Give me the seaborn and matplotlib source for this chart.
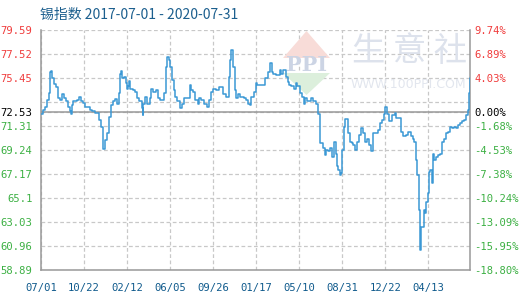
import numpy as np
import pandas as pd
import matplotlib
matplotlib.use("Agg")
import matplotlib.pyplot as plt
import seaborn as sns
from matplotlib.patches import Polygon

# ---------------- data ----------------
start_date = "2017-07-01"
day_offset = [0, 4, 10, 15, 20, 24, 26, 29, 34, 39, 45, 50, 55, 60, 66, 71, 76, 79, 81, 85,
              94, 101, 106, 111, 116, 129, 134, 143, 152, 158, 164, 167, 173, 178, 183, 188,
              194, 199, 204, 208, 210, 213, 218, 223, 227, 229, 231, 234, 241, 246, 253, 258,
              264, 267, 269, 274, 279, 285, 290, 295, 302, 307, 313, 323, 328, 332, 335, 339,
              344, 348, 353, 358, 365, 370, 376, 391, 395, 400, 405, 411, 416, 421, 428, 435,
              441, 446, 451, 460, 468, 477, 486, 493, 496, 500, 505, 509, 512, 517, 523, 533,
              539, 544, 549, 552, 558, 563, 568, 589, 595, 600, 605, 610, 617, 626, 631, 636,
              642, 647, 652, 657, 663, 668, 673, 680, 686, 691, 694, 699, 708, 715, 721, 726,
              731, 740, 745, 749, 754, 759, 764, 770, 773, 777, 780, 784, 787, 791, 794, 798,
              806, 810, 815, 820, 824, 829, 835, 840, 845, 850, 856, 861, 866, 871, 877, 885,
              890, 896, 901, 904, 908, 913, 920, 922, 929, 932, 945, 950, 957, 964, 971, 976,
              980, 985, 988, 992, 994, 997, 1004, 1008, 1011, 1015, 1018, 1022, 1025, 1029,
              1032, 1038, 1043, 1048, 1053, 1059, 1064, 1069, 1074, 1080, 1085, 1090, 1095,
              1101, 1106, 1111, 1116, 1120, 1123, 1126]
tin_index = [72.30, 72.66, 72.95, 73.50, 74.10, 75.96, 76.04, 75.40, 74.90, 74.60, 73.70, 73.50,
             74.00, 73.70, 73.40, 72.95, 72.60, 72.30, 73.10, 73.40, 73.50, 73.75, 73.40, 73.30,
             72.90, 72.66, 72.60, 72.40, 71.80, 71.20, 69.30, 70.10, 70.70, 72.10, 73.10, 73.40,
             73.60, 73.20, 74.10, 75.80, 76.04, 75.40, 75.50, 74.96, 74.50, 74.70, 75.20, 74.50,
             74.40, 74.20, 73.70, 73.40, 72.80, 72.20, 73.20, 73.80, 73.20, 73.70, 74.50, 74.20,
             74.40, 73.70, 73.50, 74.10, 76.40, 77.25, 76.97, 76.40, 75.24, 74.40, 73.80, 73.40,
             72.80, 73.20, 73.70, 74.80, 74.40, 74.20, 73.50, 73.20, 73.70, 73.50, 73.20, 72.95,
             73.50, 74.20, 74.50, 74.40, 74.60, 74.00, 73.80, 75.50, 76.97, 77.80, 76.40, 74.40,
             73.70, 74.00, 73.80, 73.70, 73.50, 73.20, 73.10, 73.80, 74.20, 74.96, 74.80, 75.40,
             75.96, 76.70, 75.96, 75.80, 75.70, 76.10, 75.80, 76.10, 75.50, 75.10, 74.80, 74.70,
             74.50, 74.96, 74.70, 74.10, 73.80, 73.20, 73.70, 73.40, 73.70, 73.40, 73.20, 72.30,
             69.80, 69.40, 68.80, 69.20, 69.10, 69.40, 68.60, 69.90, 68.90, 67.80, 67.50, 67.07,
             67.20, 69.20, 71.20, 71.90, 70.66, 69.90, 69.80, 69.65, 69.20, 69.90, 70.50, 71.10,
             70.66, 69.90, 70.20, 69.65, 69.10, 70.66, 70.70, 70.90, 71.50, 71.80, 72.30, 72.95,
             72.30, 71.70, 72.10, 72.20, 72.40, 71.95, 70.80, 70.40, 70.50, 70.80, 70.40, 70.20,
             69.90, 68.36, 67.07, 64.05, 60.60, 62.60, 64.05, 63.77, 64.77, 65.50, 67.35, 67.50,
             66.35, 68.90, 68.36, 68.60, 68.80, 68.90, 69.90, 70.20, 70.66, 70.80, 71.20, 71.10,
             71.20, 71.10, 71.40, 71.50, 71.70, 71.80, 72.20, 72.66, 74.10, 75.40]

base_value = 72.53
ytick_values = [79.59, 77.52, 75.45, 73.38, 72.53, 71.31, 69.24, 67.17, 65.1, 63.03, 60.96, 58.89]
left_labels = ["79.59", "77.52", "75.45", "", "72.53", "71.31", "69.24", "67.17", "65.1",
               "63.03", "60.96", "58.89"]
right_labels = ["9.74%", "6.89%", "4.03%", "", "0.00%", "-1.68%", "-4.53%", "-7.38%",
                "-10.24%", "-13.09%", "-15.95%", "-18.80%"]
xtick_dates = ["2017-07-01", "2017-10-22", "2018-02-12", "2018-06-05", "2018-09-26",
               "2019-01-17", "2019-05-10", "2019-08-31", "2019-12-22", "2020-04-13"]
xtick_labels = ["07/01", "10/22", "02/12", "06/05", "09/26", "01/17", "05/10", "08/31",
                "12/22", "04/13"]
title_text = "锡指数 2017-07-01 - 2020-07-31"

# ---------------- figure ----------------
sns.set_style("white")
plt.rcParams["font.family"] = ["Noto Sans CJK SC", "DejaVu Sans"]

W, H = 520, 300
fig = plt.figure(figsize=(W / 100, H / 100), dpi=100)
ax = fig.add_axes([41 / W, 1 - 270 / H, 429 / W, 240.5 / H])

df = pd.DataFrame({
    "date": pd.Timestamp(start_date) + pd.to_timedelta(day_offset, unit="D"),
    "value": tin_index,
})

sns.lineplot(data=df, x="date", y="value", ax=ax, color="#3b98d5", linewidth=1.1,
             drawstyle="steps-post", estimator=None, zorder=4)

ax.set_xlim(pd.Timestamp("2017-07-01"), pd.Timestamp("2020-07-31"))
ax.set_ylim(58.89, 79.59)
ax.set_xlabel("")
ax.set_ylabel("")

# grid
ax.set_yticks(ytick_values)
ax.set_yticklabels(left_labels)
ax.set_xticks(pd.to_datetime(xtick_dates))
ax.set_xticklabels(xtick_labels)
ax.grid(True, color="#c8c8c8", linestyle=(0, (3, 2)), linewidth=0.9)
ax.axhline(base_value, color="#999999", linewidth=1.1, zorder=3)

for sp in ["left", "right", "bottom"]:
    ax.spines[sp].set_color("#999999")
    ax.spines[sp].set_linewidth(1.1)
ax.spines["top"].set_visible(False)

mono = "DejaVu Sans Mono"
ax.tick_params(axis="both", length=0)
ax.tick_params(axis="y", pad=6)
ax.tick_params(axis="x", pad=9)
for lab in ax.get_xticklabels():
    lab.set_fontfamily(mono)
    lab.set_fontsize(7.6)
    lab.set_color("#0f5a8c")

red, green, black = "#f03c3c", "#3cb043", "#000000"
def colour_for(v):
    if abs(v - base_value) < 1e-6:
        return black
    return red if v > base_value else green

for lab, v in zip(ax.get_yticklabels(), ytick_values):
    lab.set_fontfamily(mono)
    lab.set_fontsize(7.6)
    lab.set_color(colour_for(v))

ax2 = ax.twinx()
ax2.set_ylim(58.89, 79.59)
ax2.set_yticks(ytick_values)
ax2.set_yticklabels(right_labels)
ax2.tick_params(axis="y", length=0, pad=3)
for sp in ax2.spines.values():
    sp.set_visible(False)
ax2.grid(False)
for lab, v in zip(ax2.get_yticklabels(), ytick_values):
    lab.set_fontfamily(mono)
    lab.set_fontsize(7.6)
    lab.set_color(colour_for(v))

# ---------------- watermark ----------------
def fp(x, y):
    return (x / W, 1 - y / H)

tf = fig.transFigure
ax.add_patch(Polygon([fp(283, 58), fp(330, 58), fp(306.5, 31)], closed=True,
                     facecolor="#f8dcd8", edgecolor="none", transform=tf, zorder=1))
ax.add_patch(Polygon([fp(283, 73), fp(330, 73), fp(306.5, 95)], closed=True,
                     facecolor="#dcefdc", edgecolor="none", transform=tf, zorder=1))
ax.text(*fp(306.5, 65), "PPI", transform=tf, ha="center", va="center", fontsize=15,
        fontfamily="DejaVu Serif", fontweight="bold", color="#ccd4e4", zorder=1.5)
ax.text(*fp(410, 52), "生 意 社", transform=tf, ha="center", va="center", fontsize=24,
        color="#dde2ec", zorder=1.5)
ax.text(*fp(408, 85), "WWW.100PPI.COM", transform=tf, ha="center", va="center",
        fontsize=9, fontfamily="DejaVu Sans", color="#e2e6ee", zorder=1.5)

# ---------------- title ----------------
fig.text(40 / W, 1 - 14.5 / H, title_text, ha="left", va="center", fontsize=10,
         color="#1c5f8e")

fig.savefig("out.png", dpi=100)
